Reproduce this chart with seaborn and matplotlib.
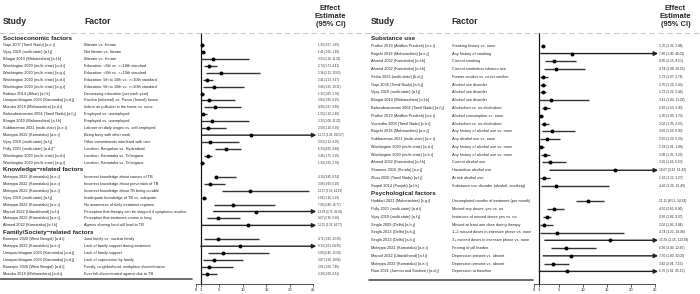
import matplotlib
matplotlib.use("Agg")
import matplotlib.pyplot as plt
from matplotlib.lines import Line2D
from matplotlib.transforms import blended_transform_factory
import pandas as pd
import seaborn as sns

# ---------------- left panel data ----------------
left_groups = ["Socioeconomic factors", "Knowledge\u2212related factors", "Family/Society\u2212related factors"]
left_sizes = [18, 8, 6]
left_study = [
    "Gapi 2007 (Tamil Nadu) [a.e.i]", "Vijay 2010 (multi-state) [a.f.j]", "Bhagat 2010 (Maharashtra) [a.f.k]",
    "Washington 2020 (multi-state) [a.d.i]", "Washington 2020 (multi-state) [a.g.i]",
    "Washington 2020 (multi-state) [a.d.i]", "Washington 2020 (multi-state) [a.g.i]",
    "Babiarz 2014 (Bihar) [a.f.k]", "Umayorubhagam 2023 (Karnataka) [a.d.j]", "Mundra 2018 (Maharashtra) [a.d.i]",
    "Balasubramanian 2004 (Tamil Nadu) [a.f.j]", "Bhagat 2010 (Maharashtra) [a.f.k]",
    "Subbaraman 2021 (multi-state) [a.e.i]", "Motappa 2022 (Karnataka) [a.e.i]", "Vijay 2010 (multi-state) [a.f.j]",
    "Polly 2021 (multi-state) [a.d.i]*", "Washington 2020 (multi-state) [a.d.i]", "Washington 2020 (multi-state) [a.g.i]",
    "Motappa 2022 (Karnataka) [a.e.i]", "Motappa 2022 (Karnataka) [a.e.i]", "Motappa 2022 (Karnataka) [a.e.i]",
    "Vijay 2010 (multi-state) [a.f.j]", "Motappa 2022 (Karnataka) [a.e.i]", "Maroof 2022 (Uttarakhand) [a.f.i]",
    "Motappa 2022 (Karnataka) [a.e.i]", "Ahmed 2022 (Karnataka) [a.f.k]",
    "Banerjee 2020 (West Bengal) [a.d.i]", "Motappa 2022 (Karnataka) [a.e.i]",
    "Umayorubhagam 2023 (Karnataka) [a.d.j]", "Umayorubhagam 2023 (Karnataka) [a.d.j]",
    "Banerjee 2020 (West Bengal) [a.d.i]", "Mundra 2018 (Maharashtra) [a.d.i]",
]
left_factor = [
    "Illiterate vs. literate", "Not literate vs. literate", "Illiterate vs. literate",
    "Education: <8th vs. >=10th standard", "Education: <8th vs. >=10th standard",
    "Education: 5th to 10th vs. >=10th standard", "Education: 5th to 10th vs. >=10th standard",
    "Decreasing education (per each year)", "Kaccha (informal) vs. Pucca (formal) house",
    "Indoor air pollution in the home vs. none", "Employed vs. unemployed", "Employed vs. unemployed",
    "Laborer on daily wages vs. self-employed", "Being busy with other work",
    "Other commitments interfered with care", "Location: Bengaluru vs. Hyderabad",
    "Location: Karnataka vs. Telangana", "Location: Karnataka vs. Telangana",
    "Incorrect knowledge about causes of TB", "Incorrect knowledge about prevention of TB",
    "Incorrect knowledge about TB being curable", "Inadequate knowledge of TB vs. adequate",
    "No awareness of daily treatment regimen", "Perception that therapy can be stopped if symptoms resolve",
    "Perception that treatment course is long", "Agrees sharing food will lead to TB",
    "Joint family vs. nuclear family", "Lack of family support during treatment", "Lack of family support",
    "Lack of supervision by family", "Family, neighborhood, workplace discrimination",
    "Ever felt discriminated against due to TB",
]
left_est = [1.33, 1.41, 3.53, 2.74, 5.36, 2.41, 3.90, 1.32, 2.84, 4.00, 1.50, 3.33, 2.50, 11.72, 3.03, 6.33,
            2.46, 1.34, 4.19, 3.06, 11.57, 1.66, 7.98, 12.68, 4.67, 11.15, 4.71, 9.33, 5.83, 3.87, 2.81, 2.30]
left_lo = [1.07, 1.06, 1.10, 1.71, 2.15, 1.53, 1.55, 1.05, 1.06, 1.67, 1.10, 1.00, 1.10, 1.34, 1.12, 4.05,
           1.75, 1.05, 3.85, 1.69, 5.56, 1.26, 3.80, 3.75, 2.36, 1.32, 1.65, 1.01, 2.45, 1.50, 1.06, 1.08]
left_hi = [1.65, 1.92, 11.26, 4.41, 13.65, 3.67, 10.31, 1.70, 8.25, 9.60, 2.40, 11.20, 6.30, 102.57, 9.05, 9.68,
           3.35, 1.70, 8.54, 6.20, 24.13, 2.23, 16.77, 42.85, 9.30, 94.77, 13.39, 64.35, 15.58, 10.06, 7.85, 4.51]

# ---------------- right panel data ----------------
right_groups = ["Substance use", "Psychological factors"]
right_sizes = [19, 10]
right_study = [
    "Pruthvi 2019 (Andhra Pradesh) [a.c.i]", "Bagchi 2018 (Maharashtra) [a.e.j]", "Ahmed 2022 (Karnataka) [a.f.k]",
    "Ahmed 2022 (Karnataka) [a.f.k]", "Sinha 2023 (multi-state) [b.d.j]", "Gopi 2006 (Tamil Nadu) [a.h.j]",
    "Vijay 2010 (multi-state) [a.f.j]", "Bhagat 2010 (Maharashtra) [a.f.k]",
    "Balasubramanian 2004 (Tamil Nadu) [a.f.j]", "Pruthvi 2019 (Andhra Pradesh) [a.c.i]",
    "Vasantha 2008 (Tamil Nadu) [c.h.i]", "Bagchi 2018 (Maharashtra) [a.e.j]",
    "Subbaraman 2021 (multi-state) [a.e.i]", "Washington 2020 (multi-state) [a.d.i]",
    "Washington 2020 (multi-state) [a.h.i]", "Ahmed 2022 (Karnataka) [a.f.k]", "Shameer 2016 (Kerala) [a.e.j]",
    "Zhou 2020 (Tamil Nadu) [a.f.j]", "Sarpal 2014 (Punjab) [a.f.k]",
    "Huddart 2021 (Maharashtra) [c.g.i]", "Polly 2021 (multi-state) [a.d.i]", "Vijay 2010 (multi-state) [a.f.j]",
    "Singla 2009 (Delhi) [a.h.j]", "Singla 2013 (Delhi) [a.h.j]", "Singla 2013 (Delhi) [a.h.j]",
    "Motappa 2022 (Karnataka) [a.e.i]", "Maroof 2022 (Uttarakhand) [a.f.i]", "Motappa 2022 (Karnataka) [a.e.i]",
    "Rout 2021 (Jammu and Kashmir) [a.d.j]",
]
right_factor = [
    "Smoking history vs. none", "Any history of smoking", "Current smoking", "Current smokeless tobacco use",
    "Former smoker vs. never smoker", "Alcohol use disorder", "Alcohol use disorder", "Alcohol use disorder",
    "Alcoholism vs. no alcoholism", "Alcohol consumption vs. none", "Alcoholism vs. no alcoholism",
    "Any history of alcohol use vs. none", "Any alcohol use vs. none", "Any history of alcohol use vs. none",
    "Any history of alcohol use vs. none", "Current alcohol use", "Hazardous alcohol use", "At risk alcohol use",
    "Substance use disorder (alcohol, smoking)",
    "Uncompleted months of treatment (per month)", "Missed any doses: yes vs. no",
    "Instances of missed doses yes vs. no", "Missed at least one dose during therapy",
    "1\u20132 missed doses in intensive phase vs. none", "3+ missed doses in intensive phase vs. none",
    "Fearing of pill burden", "Depression present vs. absent", "Depression present vs. absent",
    "Depression at baseline",
]
right_est = [1.70, 7.80, 4.05, 4.54, 1.73, 1.70, 1.72, 3.41, 2.20, 1.30, 2.02, 3.60, 2.50, 1.38, 2.09, 3.20,
             16.67, 1.92, 4.45, 11.11, 4.00, 2.56, 2.02, 4.74, 15.55, 6.56, 7.50, 3.82, 6.70]
right_lo = [1.32, 1.30, 2.15, 2.00, 1.07, 1.20, 1.22, 1.04, 1.50, 1.00, 1.35, 1.50, 1.20, 1.01, 1.35, 1.62,
            3.22, 1.12, 1.26, 8.51, 2.65, 1.82, 1.05, 1.21, 2.15, 3.40, 1.80, 2.04, 1.01]
right_hi = [2.08, 46.00, 8.51, 10.55, 2.78, 2.40, 2.44, 11.22, 3.30, 1.70, 2.95, 8.30, 5.20, 1.88, 3.23, 6.50,
            61.42, 3.27, 15.49, 14.34, 6.06, 3.37, 3.84, 18.49, 113.99, 12.65, 32.00, 7.15, 35.15]

W, H = 700, 294
sns.set_theme(style="white")
plt.rcParams["font.family"] = ["Liberation Sans", "DejaVu Sans"]

fig = plt.figure(figsize=(7, 2.94), dpi=100)


def panel(px_left, px_right, xlim, ylim, groups, sizes, study, factor, est, lo, hi,
          x_study, x_factor, x_est, est_fs):
    ax = fig.add_axes([px_left / W, (H - 284) / H, (px_right - px_left) / W, (284 - 33) / H])
    ys, heads = [], []
    i = 0
    for g, n in zip(groups, sizes):
        heads.append((g, i))
        ys.extend(range(i + 1, i + n + 1))
        i += n + 1
    df = pd.DataFrame({"y": ys, "study": study, "factor": factor, "est": est, "lo": lo, "hi": hi})

    ax.axvline(1, color="#111111", lw=0.85, zorder=1)
    inside = df[df.hi <= 25]
    ax.hlines(inside.y, inside.lo, inside.hi, color="#333333", lw=1.0, zorder=2)
    for _, r in df[df.hi > 25].iterrows():
        ax.annotate("", xy=(25.6, r.y), xytext=(r.lo, r.y),
                    arrowprops=dict(arrowstyle="-|>", color="#222222", lw=1.0,
                                    mutation_scale=6, shrinkA=0, shrinkB=0))
    sns.scatterplot(data=df, x="est", y="y", ax=ax, color="black", marker="o", s=8,
                    linewidth=0, zorder=3)

    ax.set_xlim(*xlim)
    ax.set_ylim(*ylim)
    ax.set_xlabel("")
    ax.set_ylabel("")
    ax.set_yticks([])
    ax.set_xticks([0, 1, 5, 10, 15, 20, 25])
    ax.tick_params(axis="x", labelsize=3.0, length=1.8, width=0.5, pad=1, bottom=True, colors="#222222")
    sns.despine(ax=ax, left=True)
    ax.spines["bottom"].set_bounds(0, 25)
    ax.spines["bottom"].set_linewidth(0.6)
    ax.spines["bottom"].set_color("#333333")
    ax.patch.set_alpha(0)

    tr = blended_transform_factory(fig.transFigure, ax.transData)
    for g, y in heads:
        ax.text(x_study / W, y, g, transform=tr, fontsize=4.5, fontweight="bold", va="center", clip_on=False)
    for _, r in df.iterrows():
        ax.text(x_study / W, r.y, r.study, transform=tr, fontsize=2.75, va="center", clip_on=False)
        ax.text(x_factor / W, r.y, r.factor, transform=tr, fontsize=2.75, va="center", clip_on=False)
        ax.text(x_est / W, r.y, f"{r.est:.2f} ({r.lo:.2f}, {r.hi:.2f})", transform=tr,
                fontsize=est_fs, va="center", clip_on=False)
    return ax


# left: value 1 at px 200.7, 4.7 px per unit; rows 6.94 px apart starting at 38 px
panel(195, 318, (-0.21, 25.96), ((284 - 38) / 6.94, (33 - 38) / 6.94),
      left_groups, left_sizes, left_study, left_factor, left_est, left_lo, left_hi,
      3, 84, 318, 2.1)
# right: value 1 at px 539.3, 4.83 px per unit; rows 7.78 px apart starting at 38 px
panel(533, 660, (-0.30, 25.99), ((284 - 38) / 7.78, (33 - 38) / 7.78),
      right_groups, right_sizes, right_study, right_factor, right_est, right_lo, right_hi,
      371, 452, 659, 2.3)

# column headers
for xs, xf, xe in [(3, 84, 330.5), (371, 451, 675.5)]:
    fig.text(xs / W, 1 - 22 / H, "Study", fontsize=6.2, fontweight="bold", va="center")
    fig.text(xf / W, 1 - 22 / H, "Factor", fontsize=6.2, fontweight="bold", va="center")
    fig.text(xe / W, 1 - 16 / H, "Effect\nEstimate\n(95% CI)", fontsize=5.4, fontweight="bold",
             va="center", ha="center", multialignment="center", linespacing=1.2)

# separators
fig.add_artist(Line2D([0, 1], [1 - 32.5 / H] * 2, transform=fig.transFigure,
                      ls=(0, (5, 3)), color="#c3cbd0", lw=0.8))
fig.add_artist(Line2D([0, 192 / W], [1 - 279 / H] * 2, transform=fig.transFigure, color="#555555", lw=1.2))
fig.add_artist(Line2D([369 / W, 533 / W], [1 - 279.5 / H] * 2, transform=fig.transFigure,
                      color="#555555", lw=1.2))

fig.savefig("out.png", dpi=100, facecolor="white")
